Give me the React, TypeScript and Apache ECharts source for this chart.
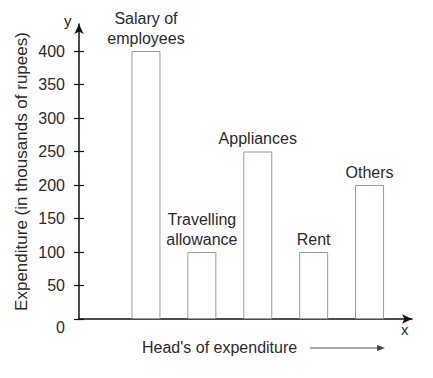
import React, { useEffect, useRef } from "react";
import * as echarts from "echarts";

const categories = ["Salary of\nemployees", "Travelling\nallowance", "Appliances", "Rent", "Others"];
const values = [400, 100, 250, 100, 200];
const yMin = 0;
const yMax = 400;
const yInterval = 50;
const yTitle = "Expenditure (in thousands of rupees)";
const xTitle = "Head's of expenditure";

const FONT = "'Liberation Sans', Arial, sans-serif";
const TXT = "#2a2a2a";

export default function App() {
  const ref = useRef<HTMLDivElement>(null);
  useEffect(() => {
    if (!ref.current) return;
    const chart = echarts.init(ref.current, undefined, { renderer: "svg" });
    chart.setOption({
      animation: false,
      backgroundColor: "#ffffff",
      textStyle: { fontFamily: FONT },
      grid: [
        { left: 118, right: 35.5, top: 51, bottom: 59 },
        { left: 79, right: 21, top: 24, bottom: 59 },
      ],
      xAxis: [
        {
          type: "category",
          gridIndex: 0,
          data: categories,
          axisLine: { show: false },
          axisTick: { show: false },
          axisLabel: { show: false },
        },
        {
          type: "value",
          gridIndex: 1,
          min: 0,
          max: 1,
          axisLine: {
            show: true,
            symbol: ["none", "arrow"],
            symbolSize: [7, 10],
            lineStyle: { color: "#111", width: 1.5 },
          },
          axisTick: { show: false },
          axisLabel: { show: false },
          splitLine: { show: false },
        },
      ],
      yAxis: [
        {
          type: "value",
          gridIndex: 0,
          min: yMin,
          max: yMax,
          interval: yInterval,
          position: "left",
          offset: 39,
          axisLine: { show: false },
          axisTick: { show: true, length: 5, lineStyle: { color: "#111", width: 1.2 } },
          axisLabel: {
            color: TXT,
            fontSize: 16,
            fontFamily: FONT,
            margin: 14,
            formatter: (v: number) => (v === 0 ? "{z|0}" : String(v)),
            rich: { z: { fontSize: 16, fontFamily: FONT, color: TXT, padding: [17, 0, 0, 0] } },
          },
          splitLine: { show: false },
        },
        {
          type: "value",
          gridIndex: 0,
          min: yMin,
          max: yMax,
          interval: yInterval,
          position: "left",
          offset: 39,
          axisLine: { show: false },
          axisTick: { show: true, inside: true, length: 5, lineStyle: { color: "#111", width: 1.2 } },
          axisLabel: { show: false },
          splitLine: { show: false },
        },
        {
          type: "value",
          gridIndex: 1,
          min: 0,
          max: 1,
          name: yTitle,
          nameLocation: "middle",
          nameRotate: 90,
          nameGap: 49,
          nameTextStyle: { color: TXT, fontSize: 17, fontFamily: FONT },
          axisLine: {
            show: true,
            symbol: ["none", "arrow"],
            symbolSize: [7, 10],
            lineStyle: { color: "#111", width: 1.5 },
          },
          axisTick: { show: false },
          axisLabel: { show: false },
          splitLine: { show: false },
        },
      ],
      series: [
        {
          type: "bar",
          xAxisIndex: 0,
          yAxisIndex: 0,
          data: values,
          barWidth: 29,
          itemStyle: { color: "#ffffff", borderColor: "#9a9a9a", borderWidth: 1 },
          label: {
            show: true,
            position: "top",
            distance: 3,
            formatter: "{b}",
            color: TXT,
            fontSize: 16,
            lineHeight: 20,
            fontFamily: FONT,
          },
        },
      ],
      graphic: [
        { type: "text", left: 64, top: 13, style: { text: "y", fontSize: 15, fill: TXT, fontFamily: FONT } },
        { type: "text", left: 401, top: 322, style: { text: "x", fontSize: 15, fill: TXT, fontFamily: FONT } },
        { type: "text", left: 142, top: 339, style: { text: xTitle, fontSize: 16, fill: TXT, fontFamily: FONT } },
        { type: "line", shape: { x1: 310, y1: 348, x2: 379, y2: 348 }, style: { stroke: "#555", lineWidth: 1 } },
        { type: "polygon", shape: { points: [[385, 348], [377, 345], [377, 351]] }, style: { fill: "#444" } },
      ],
    });
    return () => chart.dispose();
  }, []);
  return (
    <div
      ref={ref}
      style={{ width: 433, height: 378, position: "fixed", left: 0, top: 0 }}
    />
  );
}
